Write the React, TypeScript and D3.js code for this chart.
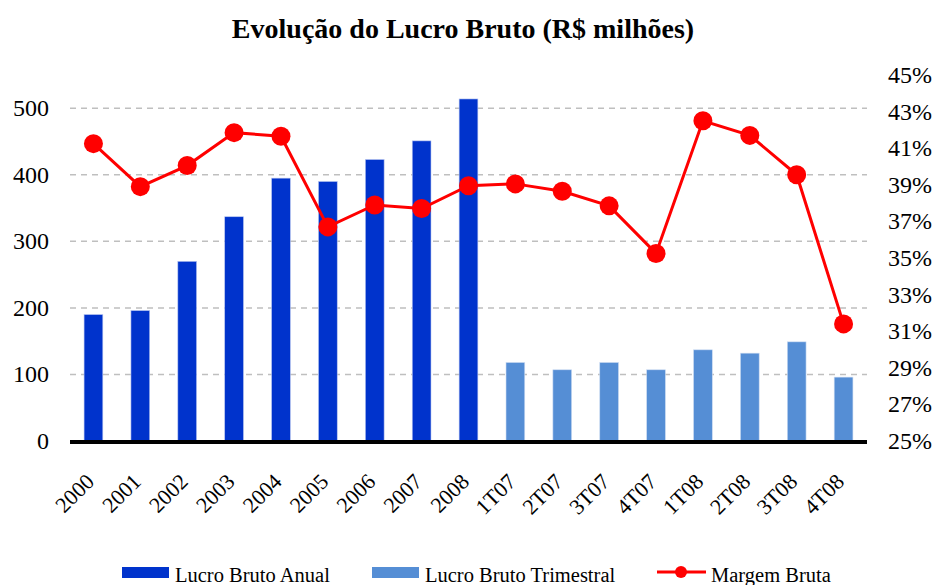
import React, { useRef, useEffect } from 'react';
import * as d3 from 'd3';

const categories = ['2000', '2001', '2002', '2003', '2004', '2005', '2006', '2007', '2008',
  '1T07', '2T07', '3T07', '4T07', '1T08', '2T08', '3T08', '4T08'];
const annualValues = [190, 196, 270, 337, 395, 390, 423, 451, 514];
const quarterlyValues = [118, 107, 118, 107, 137, 132, 149, 96];
const marginValues = [41.25, 38.9, 40.05, 41.85, 41.65, 36.7, 37.9, 37.7, 38.95,
  39.05, 38.65, 37.85, 35.25, 42.5, 41.7, 39.55, 31.4];
const leftTicks = [0, 100, 200, 300, 400, 500];
const rightTicks = [25, 27, 29, 31, 33, 35, 37, 39, 41, 43, 45];

const App: React.FC = () => {
  const svgRef = useRef<SVGSVGElement>(null);

  useEffect(() => {
    if (!svgRef.current) return;
    const svg = d3.select(svgRef.current);
    svg.selectAll('*').remove();

    const left = 70, right = 867, top = 75, bottom = 441;

    const x = d3.scaleBand().domain(categories).range([left, right]).paddingInner(0.6).paddingOuter(0.3);
    const xc = (c: string) => (x(c) as number) + x.bandwidth() / 2;
    const y = d3.scaleLinear().domain([0, 550]).range([bottom, top]);
    const y2 = d3.scaleLinear().domain([25, 45]).range([bottom, top]);

    svg.append('text')
      .attr('x', 463).attr('y', 38)
      .attr('text-anchor', 'middle')
      .style('font-weight', 'bold').style('font-size', '28px')
      .text('Evolução do Lucro Bruto (R$ milhões)');

    // grid
    svg.append('g').selectAll('line')
      .data(leftTicks.filter((t) => t > 0))
      .enter().append('line')
      .attr('x1', left).attr('x2', right)
      .attr('y1', (d) => y(d)).attr('y2', (d) => y(d))
      .attr('stroke', '#bfbfbf').attr('stroke-width', 1.5)
      .attr('stroke-dasharray', '6,5');

    // left axis labels
    svg.append('g').selectAll('text')
      .data(leftTicks).enter().append('text')
      .attr('x', 49).attr('y', (d) => y(d) + 8)
      .attr('text-anchor', 'end')
      .style('font-size', '24px')
      .text((d) => d);

    // right axis labels
    svg.append('g').selectAll('text')
      .data(rightTicks).enter().append('text')
      .attr('x', 888).attr('y', (d) => y2(d) + 8)
      .attr('text-anchor', 'start')
      .style('font-size', '24px')
      .text((d) => d + '%');

    // bars
    svg.append('g').selectAll('rect')
      .data(annualValues).enter().append('rect')
      .attr('x', (_, i) => x(categories[i]) as number)
      .attr('y', (d) => y(d))
      .attr('width', x.bandwidth())
      .attr('height', (d) => bottom - y(d))
      .attr('fill', '#0033cc')
      .attr('stroke', '#b8c6f0').attr('stroke-width', 0.6);

    svg.append('g').selectAll('rect')
      .data(quarterlyValues).enter().append('rect')
      .attr('x', (_, i) => x(categories[i + annualValues.length]) as number)
      .attr('y', (d) => y(d))
      .attr('width', x.bandwidth())
      .attr('height', (d) => bottom - y(d))
      .attr('fill', '#558ed5')
      .attr('stroke', '#cddcf2').attr('stroke-width', 0.6);

    // axis line
    svg.append('line')
      .attr('x1', left).attr('x2', right)
      .attr('y1', bottom + 1).attr('y2', bottom + 1)
      .attr('stroke', '#000').attr('stroke-width', 4);

    // margin line
    const line = d3.line<number>()
      .x((_, i) => xc(categories[i]))
      .y((d) => y2(d));
    svg.append('path')
      .datum(marginValues)
      .attr('d', line)
      .attr('fill', 'none')
      .attr('stroke', '#ff0000')
      .attr('stroke-width', 3);
    svg.append('g').selectAll('circle')
      .data(marginValues).enter().append('circle')
      .attr('cx', (_, i) => xc(categories[i]))
      .attr('cy', (d) => y2(d))
      .attr('r', 9.5)
      .attr('fill', '#ff0000');

    // x labels
    svg.append('g').selectAll('text')
      .data(categories).enter().append('text')
      .attr('transform', (d) => `translate(${xc(d) + 2},${bottom + 42}) rotate(-45)`)
      .attr('text-anchor', 'end')
      .style('font-size', '22px')
      .text((d) => d);

    // legend
    const ly = 582;
    const lg = svg.append('g').style('font-size', '20.5px');
    lg.append('rect').attr('x', 122).attr('y', 567).attr('width', 47).attr('height', 11).attr('fill', '#0033cc');
    lg.append('text').attr('x', 175).attr('y', ly).text('Lucro Bruto Anual');
    lg.append('rect').attr('x', 372).attr('y', 567).attr('width', 47).attr('height', 11).attr('fill', '#558ed5');
    lg.append('text').attr('x', 425).attr('y', ly).text('Lucro Bruto Trimestral');
    lg.append('line').attr('x1', 657).attr('x2', 706).attr('y1', 572).attr('y2', 572)
      .attr('stroke', '#ff0000').attr('stroke-width', 3);
    lg.append('circle').attr('cx', 681).attr('cy', 572).attr('r', 6).attr('fill', '#ff0000');
    lg.append('text').attr('x', 711).attr('y', ly).text('Margem Bruta');
  }, []);

  return (
    <svg
      ref={svgRef}
      width={937}
      height={585}
      fontFamily="'Liberation Serif', 'Times New Roman', serif"
      style={{ position: 'absolute', left: 0, top: 0, background: '#fff' }}
    />
  );
};

export default App;
